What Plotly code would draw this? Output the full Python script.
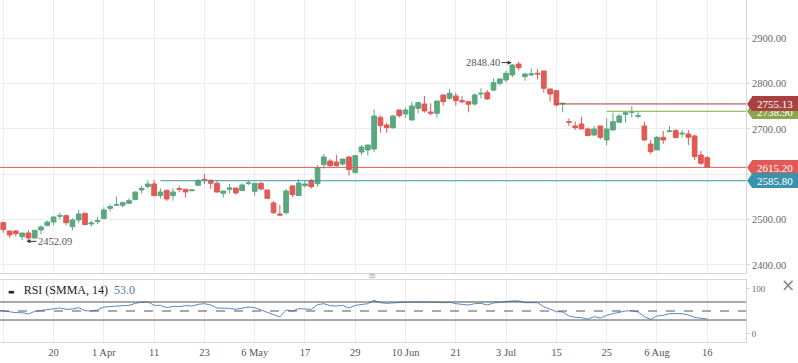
import plotly.graph_objects as go

# ---------------- data ----------------
opens = [2473.5, 2493.4, 2475.0, 2475.0, 2462.5, 2470.6, 2459.6, 2477.2, 2486.8, 2494.8,
         2507.3, 2508.8, 2484.5, 2499.3, 2513.9, 2490.4, 2495.6, 2502.2, 2525.0, 2531.6,
         2531.6, 2536.0, 2544.1, 2565.4, 2572.7, 2578.6, 2552.9, 2564.7, 2552.9, 2568.3,
         2566.9, 2563.9, 2575.7, 2588.9, 2586.7, 2580.1, 2558.0, 2566.9, 2569.8, 2563.9,
         2580.1, 2562.5, 2580.1, 2565.4, 2536.7, 2512.4, 2515.4, 2574.2, 2552.9, 2574.9,
         2586.7, 2579.3, 2621.2, 2629.3, 2627.1, 2622.7, 2638.1, 2603.6, 2649.1, 2653.6,
         2655.8, 2725.6, 2708.7, 2702.8, 2741.8, 2733.0, 2719.8, 2745.5, 2755.0, 2737.4,
         2734.4, 2774.9, 2767.5, 2772.7, 2762.4, 2760.2, 2755.0, 2777.1, 2780.0, 2785.9,
         2800.6, 2808.0, 2819.0, 2843.2, 2815.3, 2819.0, 2822.7, 2827.8, 2788.1, 2784.4,
         2755.0, 2716.1, 2706.5, 2710.9, 2699.9, 2686.7, 2706.5, 2675.7, 2697.7, 2714.6,
         2732.2, 2736.7, 2727.8, 2706.5, 2666.8, 2653.6, 2681.5, 2694.0, 2696.2, 2688.9,
         2688.9, 2684.5, 2642.6, 2636.7]
highs = [2497.0, 2495.6, 2475.0, 2477.2, 2470.6, 2476.5, 2476.5, 2487.5, 2497.8, 2505.9,
         2515.4, 2511.7, 2502.9, 2521.3, 2515.4, 2497.8, 2506.6, 2527.2, 2533.8, 2550.7,
         2539.7, 2547.0, 2561.0, 2574.2, 2587.5, 2587.5, 2569.1, 2566.1, 2569.1, 2575.0,
         2566.9, 2566.9, 2588.9, 2600.7, 2588.9, 2587.5, 2563.2, 2578.6, 2569.8, 2580.1,
         2586.0, 2580.1, 2583.0, 2565.4, 2541.1, 2532.3, 2567.6, 2576.4, 2589.6, 2585.9,
         2589.6, 2620.5, 2644.7, 2633.7, 2642.5, 2633.7, 2640.3, 2642.5, 2664.6, 2664.6,
         2743.3, 2730.0, 2713.9, 2730.0, 2741.8, 2747.0, 2760.2, 2760.2, 2772.7, 2756.5,
         2761.6, 2774.9, 2788.1, 2780.0, 2772.7, 2760.2, 2778.5, 2789.6, 2785.9, 2811.6,
         2811.6, 2828.5, 2843.2, 2848.4, 2824.1, 2833.7, 2831.5, 2827.8, 2788.1, 2785.9,
         2756.5, 2723.4, 2716.1, 2727.1, 2703.6, 2706.5, 2706.5, 2723.4, 2735.9, 2733.0,
         2735.9, 2750.6, 2738.1, 2716.1, 2675.5, 2684.5, 2695.5, 2706.5, 2699.9, 2697.7,
         2697.7, 2686.7, 2651.4, 2640.4]
lows = [2470.0, 2471.3, 2460.3, 2462.5, 2454.4, 2452.09, 2458.1, 2467.7, 2486.0, 2487.5,
        2500.7, 2487.5, 2476.5, 2491.9, 2488.2, 2484.5, 2489.7, 2502.2, 2519.1, 2530.1,
        2527.2, 2534.5, 2544.1, 2557.3, 2569.1, 2552.9, 2547.0, 2541.2, 2541.9, 2560.3,
        2548.5, 2562.5, 2575.7, 2578.6, 2567.6, 2559.5, 2548.5, 2558.0, 2555.1, 2563.9,
        2576.4, 2552.9, 2565.4, 2545.6, 2512.4, 2508.0, 2511.0, 2549.9, 2552.9, 2570.5,
        2568.3, 2572.7, 2612.4, 2616.8, 2616.8, 2619.0, 2597.0, 2601.4, 2642.5, 2641.1,
        2649.2, 2691.8, 2691.8, 2700.6, 2724.9, 2724.9, 2718.3, 2734.4, 2735.9, 2730.0,
        2724.9, 2751.3, 2763.9, 2751.3, 2756.5, 2736.7, 2751.3, 2767.5, 2763.9, 2783.7,
        2795.5, 2802.8, 2813.8, 2828.5, 2806.5, 2816.8, 2809.4, 2780.0, 2760.2, 2749.2,
        2736.7, 2706.5, 2697.7, 2699.9, 2684.5, 2684.5, 2677.1, 2664.6, 2696.2, 2713.9,
        2713.9, 2724.9, 2723.4, 2674.2, 2644.8, 2653.6, 2666.8, 2694.0, 2679.3, 2681.5,
        2664.6, 2631.6, 2620.5, 2615.2]
closes = [2495.6, 2477.9, 2466.2, 2469.1, 2470.6, 2459.6, 2476.5, 2483.8, 2494.8, 2505.9,
          2508.8, 2493.4, 2499.3, 2512.5, 2489.0, 2492.6, 2497.8, 2521.3, 2528.7, 2533.1,
          2537.5, 2541.9, 2561.0, 2569.1, 2578.6, 2552.9, 2561.0, 2545.6, 2561.0, 2566.9,
          2561.0, 2565.4, 2586.7, 2587.5, 2580.1, 2561.0, 2563.2, 2569.8, 2558.8, 2576.4,
          2580.8, 2580.1, 2567.6, 2547.0, 2515.4, 2510.2, 2563.1, 2555.1, 2580.8, 2578.6,
          2572.7, 2614.6, 2638.1, 2619.0, 2619.0, 2633.7, 2610.2, 2641.1, 2660.2, 2664.6,
          2728.6, 2707.3, 2702.8, 2728.6, 2729.3, 2741.8, 2750.6, 2758.0, 2739.6, 2734.4,
          2761.6, 2760.2, 2778.5, 2762.4, 2760.2, 2754.3, 2774.9, 2778.5, 2766.1, 2802.1,
          2810.2, 2822.7, 2841.0, 2835.1, 2821.2, 2821.2, 2821.2, 2789.6, 2777.1, 2752.8,
          2756.5, 2714.6, 2702.8, 2699.9, 2685.2, 2699.9, 2681.5, 2699.9, 2716.1, 2728.6,
          2735.9, 2738.1, 2729.3, 2675.7, 2649.9, 2681.5, 2675.7, 2695.5, 2680.8, 2690.4,
          2681.5, 2638.9, 2624.2, 2615.2]
rsi = [52.2, 50.0, 47.0, 46.3, 46.3, 43.3, 49.3, 51.5, 53.0, 55.2,
       56.7, 53.7, 54.4, 57.4, 50.7, 50.0, 52.2, 58.9, 60.4, 61.1,
       61.9, 62.6, 67.0, 69.5, 70.5, 62.6, 62.6, 57.4, 60.4, 59.6,
       61.9, 61.1, 64.8, 66.3, 63.3, 56.7, 56.7, 55.9, 53.7, 56.7,
       58.9, 57.4, 52.2, 47.0, 40.4, 36.7, 52.2, 50.0, 55.2, 53.7,
       53.7, 64.1, 66.3, 61.9, 61.1, 62.6, 56.7, 62.6, 64.1, 66.3,
       73.7, 68.5, 67.0, 68.5, 69.5, 69.8, 69.8, 69.9, 68.5, 69.2,
       69.5, 68.5, 69.6, 66.3, 65.6, 63.3, 66.3, 67.0, 63.3, 67.8,
       69.3, 71.0, 72.5, 72.5, 68.5, 68.5, 68.5, 59.6, 53.7, 48.5,
       47.8, 38.9, 35.9, 35.2, 32.2, 37.4, 34.4, 40.4, 44.1, 47.8,
       50.0, 50.7, 47.8, 37.4, 31.5, 38.9, 40.4, 44.1, 43.3, 44.1,
       41.1, 35.9, 33.7, 32.2]

tick_idx = [1, 9, 17, 25, 33, 41, 49, 57, 65, 73, 81, 89, 97, 105, 113]
tick_text = ["", "20", "1 Apr", "11", "23", "6 May", "17", "29", "10 Jun", "21",
             "3 Jul", "15", "25", "6 Aug", "16"]
price_ticks = [2400, 2500, 2600, 2700, 2800, 2900]
price_tick_text = ["2400.00", "2500.00", "", "2700.00", "2800.00", "2900.00"]
rsi_ticks = [0, 100]
rsi_levels = [70, 50, 30]
rsi_name = "RSI (SMMA, 14)"
rsi_value_text = "53.0"

hi_idx, hi_val = 83, 2848.40
lo_idx, lo_val = 5, 2452.09

# horizontal level lines: value, first bar index (None = full width), colour
levels_val = [2738.90, 2755.13, 2615.20, 2585.80]
levels_start = [97, 89, None, 26]
levels_col = ["#8ca74d", "#a8413f", "#e05b57", "#3b92ab"]

# ---------------- styling ----------------
GREEN = "#5aa880"
RED = "#e05a56"
GRID = "#ececf1"
AXLINE = "#d6d6dc"
FONT = "Liberation Serif, DejaVu Serif, serif"
n = len(closes)
idx = list(range(n))
X_RANGE = [0.475, 119.17]
Y_RANGE = [2383.0, 2984.3]
R_RANGE = [-18.9, 118.9]
PLOT_W = 746.0

fig = go.Figure()
fig.add_trace(go.Candlestick(
    x=idx, open=opens, high=highs, low=lows, close=closes,
    increasing=dict(line=dict(color=GREEN, width=1), fillcolor=GREEN),
    decreasing=dict(line=dict(color=RED, width=1), fillcolor=RED),
    whiskerwidth=0, showlegend=False, hoverinfo="skip",
    xaxis="x", yaxis="y"))

# RSI overbought fill
rsi_base = [rsi_levels[0]] * n
rsi_over = [max(v, rsi_levels[0]) for v in rsi]
fig.add_trace(go.Scatter(x=idx, y=rsi_base, mode="lines", line=dict(width=0),
                         showlegend=False, hoverinfo="skip", xaxis="x2", yaxis="y2"))
fig.add_trace(go.Scatter(x=idx, y=rsi_over, mode="lines", line=dict(width=0),
                         fill="tonexty", fillcolor="rgba(120,200,120,0.75)",
                         showlegend=False, hoverinfo="skip", xaxis="x2", yaxis="y2"))
fig.add_trace(go.Scatter(x=idx, y=rsi, mode="lines",
                         line=dict(color="#5f87c4", width=1),
                         showlegend=False, hoverinfo="skip", xaxis="x2", yaxis="y2"))

shapes = []
for lv in rsi_levels:
    shapes.append(dict(type="line", xref="paper", yref="y2", x0=0, x1=1, y0=lv, y1=lv,
                       line=dict(color="#555555", width=1,
                                 dash="dash" if lv == 50 else "solid"), layer="above"))

annotations = []
BOX_H = 15.5 / 0.4535  # box height in price units
for v, st, col in zip(levels_val, levels_start, levels_col):
    if st is None:
        shapes.append(dict(type="line", xref="paper", yref="y", x0=0, x1=1, y0=v, y1=v,
                           line=dict(color=col, width=1)))
    else:
        shapes.append(dict(type="line", xref="x", yref="y", x0=st, x1=X_RANGE[1] + 5,
                           y0=v, y1=v, line=dict(color=col, width=1)))
    tx = 1 + 1 / PLOT_W
    lx = 1 + 6.5 / PLOT_W
    shapes.append(dict(type="path", xref="paper", yref="y",
                       path=f"M {tx},{v} L {lx},{v + BOX_H / 2} L {lx},{v - BOX_H / 2} Z",
                       fillcolor=col, line=dict(width=0), layer="above"))
    annotations.append(dict(xref="paper", yref="y", x=1 + 6 / PLOT_W, y=v,
                            xanchor="left", yanchor="middle", text=f"{v:.2f}",
                            showarrow=False, bgcolor=col, bordercolor=col,
                            borderwidth=0, borderpad=0, width=46, height=15,
                            font=dict(family=FONT, size=11, color="white")))

# high / low markers
annotations.append(dict(x=hi_idx, y=hi_val, xref="x", yref="y", text=f"{hi_val:.2f}",
                        showarrow=True, ax=-17, ay=0, standoff=7, arrowhead=2,
                        arrowsize=0.8, arrowwidth=1, arrowcolor="#333",
                        xanchor="right", yanchor="middle", yshift=-1,
                        font=dict(family=FONT, size=10.5, color="#555")))
annotations.append(dict(x=lo_idx, y=lo_val, xref="x", yref="y", text=f"{lo_val:.2f}",
                        showarrow=True, ax=10, ay=0, standoff=0, arrowhead=2,
                        arrowsize=0.8, arrowwidth=1, arrowcolor="#333",
                        xanchor="left", yanchor="middle", xshift=-2,
                        font=dict(family=FONT, size=10.5, color="#555")))

# RSI legend
annotations.append(dict(xref="paper", yref="paper", x=6 / PLOT_W, y=(342 - 290) / 342,
                        xanchor="left", yanchor="middle", showarrow=False,
                        text=(f"<span style='font-family:DejaVu Sans;font-size:7px'>\u25ac</span>"
                              f"   {rsi_name}  <span style='color:#4a7ab8'>{rsi_value_text}</span>"),
                        font=dict(family=FONT, size=12, color="#222")))
# pane separator handle and close button
annotations.append(dict(xref="paper", yref="paper", x=372 / PLOT_W, y=(342 - 275.5) / 342,
                        text="\u2261", showarrow=False, xanchor="center", yanchor="middle",
                        font=dict(family="DejaVu Sans", size=10, color="#b8b8c0")))
annotations.append(dict(xref="paper", yref="paper", x=1 + 42 / PLOT_W, y=(342 - 285) / 342,
                        text="\u00d7", showarrow=False, xanchor="center", yanchor="middle",
                        font=dict(family="DejaVu Sans", size=17, color="#888")))

main_dom = [(342 - 272.7) / 342, 1.0]
rsi_dom = [0.0, (342 - 280) / 342]

fig.update_layout(
    width=798, height=363,
    margin=dict(l=0, r=52, t=0, b=21),
    paper_bgcolor="white", plot_bgcolor="white",
    showlegend=False, boxgap=0.25, boxgroupgap=0,
    hovermode=False,
    xaxis=dict(domain=[0, 1], anchor="y", range=X_RANGE, tickmode="array",
               tickvals=tick_idx, ticktext=tick_text, showticklabels=False,
               showgrid=True, gridcolor=GRID, zeroline=False,
               showline=True, linecolor=AXLINE, rangeslider=dict(visible=False)),
    yaxis=dict(domain=main_dom, anchor="x", side="right", range=Y_RANGE,
               tickmode="array", tickvals=price_ticks, ticktext=price_tick_text,
               showgrid=True, gridcolor=GRID, zeroline=False,
               showline=True, linecolor=AXLINE, ticks="outside", ticklen=3,
               tickcolor=AXLINE,
               tickfont=dict(family=FONT, size=10.5, color="#666")),
    xaxis2=dict(domain=[0, 1], anchor="y2", range=X_RANGE, matches="x",
                tickmode="array", tickvals=tick_idx, ticktext=tick_text,
                showgrid=True, gridcolor=GRID, zeroline=False,
                showline=True, mirror=True, linecolor=AXLINE, ticks="",
                tickfont=dict(family=FONT, size=10.5, color="#555"),
                rangeslider=dict(visible=False)),
    yaxis2=dict(domain=rsi_dom, anchor="x2", side="right", range=R_RANGE,
                tickmode="array", tickvals=rsi_ticks, showgrid=False, zeroline=False,
                showline=True, linecolor=AXLINE, ticks="outside", ticklen=3,
                tickcolor=AXLINE,
                tickfont=dict(family=FONT, size=9, color="#666")),
    shapes=shapes,
    annotations=annotations,
)

fig.write_html("out.html", config={"displayModeBar": False},
               post_script="document.body.style.margin='0';")
